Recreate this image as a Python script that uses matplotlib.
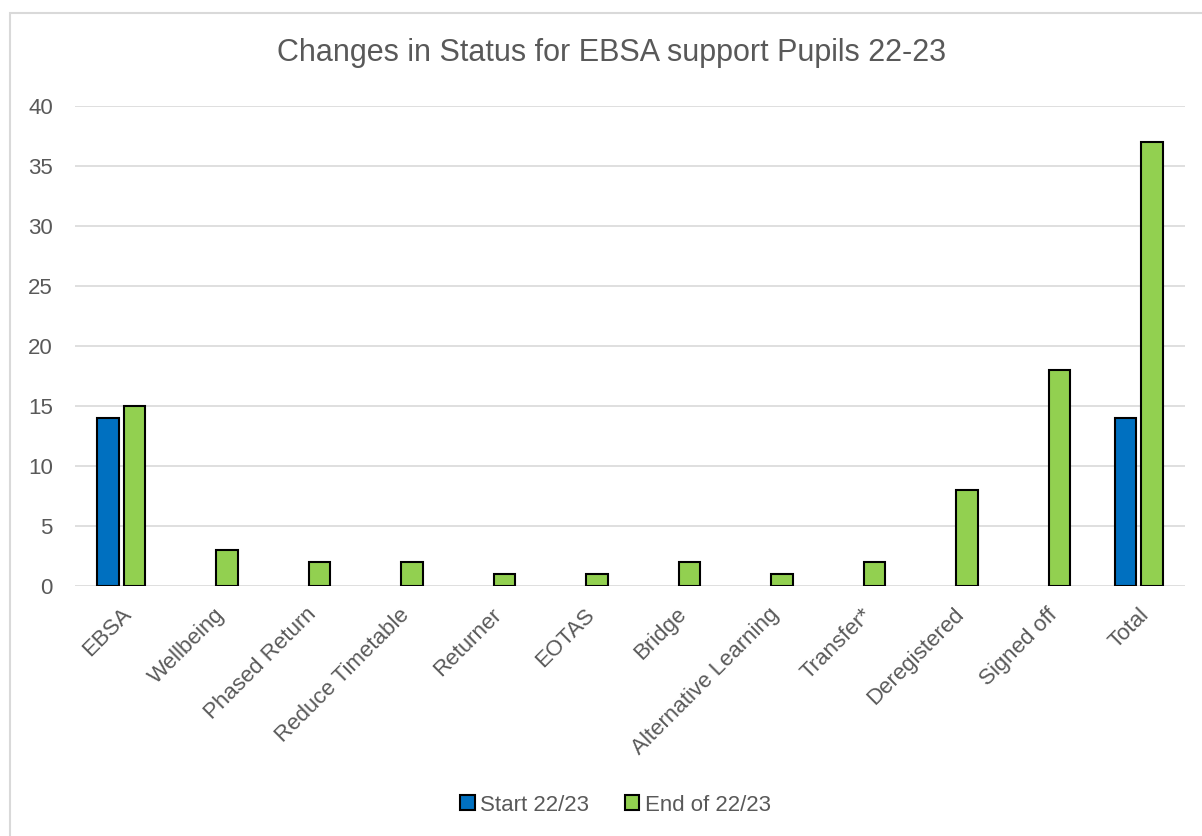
import numpy as np
import matplotlib.pyplot as plt
from matplotlib.patches import Rectangle

categories = ["EBSA", "Wellbeing", "Phased Return", "Reduce Timetable", "Returner",
              "EOTAS", "Bridge", "Alternative Learning", "Transfer*", "Deregistered",
              "Signed off", "Total"]
start_vals = [14, 0, 0, 0, 0, 0, 0, 0, 0, 0, 0, 14]
end_vals = [15, 3, 2, 2, 1, 1, 2, 1, 2, 8, 18, 37]
series_names = ["Start 22/23", "End of 22/23"]

plt.rcParams['font.family'] = ['Liberation Sans', 'DejaVu Sans']
text_col = "#595959"

fig = plt.figure(figsize=(12.02, 8.36), dpi=100)
ax = fig.add_axes([0.0624, 0.299, 0.9235, 0.5742])

x = np.arange(len(categories))
w = 0.23
off = 0.142
# zero-valued bars are not drawn in the original chart
s = np.array(start_vals)
mask = s > 0
ax.bar(x[mask] - off, s[mask], w, color="#0070C0", edgecolor="black", linewidth=1.5,
       label=series_names[0], zorder=3)
ax.bar(x + off, end_vals, w, color="#92D050", edgecolor="black", linewidth=1.5,
       label=series_names[1], zorder=3)

ax.set_xlim(-0.5, len(categories) - 0.5)
ax.set_ylim(0, 40)
ax.set_yticks(range(0, 41, 5))
ax.yaxis.grid(True, color="#D9D9D9", linewidth=1.2, zorder=0)
for sp in ax.spines.values():
    sp.set_visible(False)
ax.tick_params(axis="both", length=0, labelsize=16, colors=text_col)
ax.tick_params(axis="y", pad=16)
ax.set_xticks(x)
ax.set_xticklabels(categories, rotation=45, ha="right", rotation_mode="anchor")
ax.tick_params(axis="x", pad=13)

fig.text(0.509, 0.937, "Changes in Status for EBSA support Pupils 22-23", ha="center",
         va="center", fontsize=22, color=text_col)

leg = fig.legend(loc="center", bbox_to_anchor=(0.512, 0.037), ncol=2, frameon=False,
                 fontsize=16, handlelength=0.65, handleheight=0.65, handletextpad=0.25,
                 columnspacing=1.6)
for t in leg.get_texts():
    t.set_color(text_col)

fig.patches.append(Rectangle((10 / 1202, -0.01), 1.0, 1 - 13 / 836 + 0.01,
                             transform=fig.transFigure, fill=False,
                             edgecolor="#D9D9D9", linewidth=1.5))

fig.savefig("out.png", dpi=100)
